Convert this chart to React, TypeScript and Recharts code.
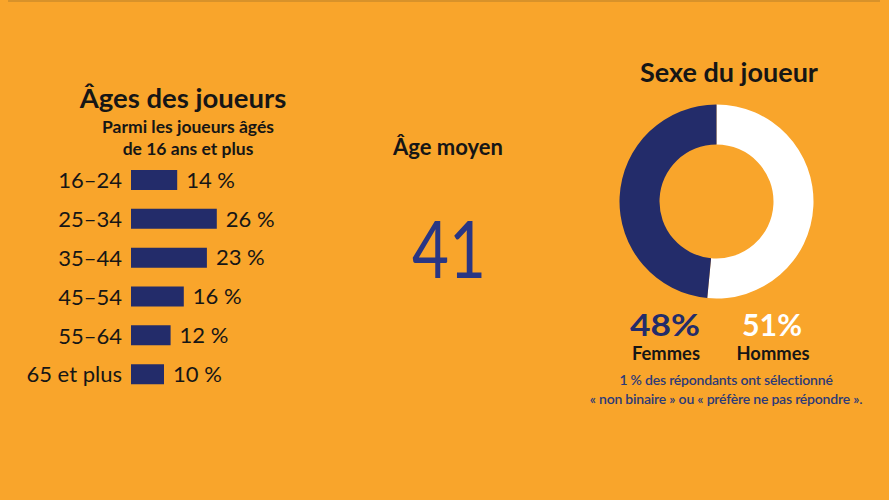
import { BarChart, Bar, XAxis, YAxis, LabelList, PieChart, Pie, Cell } from 'recharts';

const ageGroups = ['16–24', '25–34', '35–44', '45–54', '55–64', '65 et plus'];
const agePercents = [14, 26, 23, 16, 12, 10];

const genderLabels = ['Hommes', 'Femmes'];
const genderPercents = [51, 48];
const genderColors = ['#ffffff', '#232c6a'];

const averageAge = 41;

const BG = '#f9a52b';
const NAVY = '#232c6a';
const INK = '#161616';

const ageData = ageGroups.map((age, i) => ({ age, value: agePercents[i] }));
const genderData = genderLabels.map((name, i) => ({ name, value: genderPercents[i] }));

export default function App() {
  return (
    <div
      style={{
        position: 'absolute',
        left: 0,
        top: 0,
        width: 889,
        height: 500,
        background: BG,
        overflow: 'hidden',
        fontFamily: 'Lato, sans-serif',
      }}
    >
      <div style={{ position: 'absolute', left: 8, top: 0, width: 872, height: 2, background: '#d8922a' }} />

      {/* Ages bar chart */}
      <div style={{ position: 'absolute', left: 0, top: 161 }}>
        <BarChart
          width={320}
          height={233}
          layout="vertical"
          data={ageData}
          margin={{ top: 0, right: 57, bottom: 0, left: 0 }}
        >
          <XAxis type="number" hide domain={[0, 40]} />
          <YAxis
            type="category"
            dataKey="age"
            width={131}
            axisLine={false}
            tickLine={false}
            tickSize={0}
            tickMargin={9}
            tick={{ fontSize: 22, fill: INK, fontFamily: 'Lato' }}
          />
          <Bar dataKey="value" fill={NAVY} barSize={20} isAnimationActive={false}>
            <LabelList
              dataKey="value"
              position="right"
              offset={9}
              formatter={(v: number) => `${v} %`}
              style={{ fontSize: 22, fill: INK, fontFamily: 'Lato' }}
            />
          </Bar>
        </BarChart>
      </div>

      {/* Gender donut */}
      <div style={{ position: 'absolute', left: 601, top: 86 }}>
        <PieChart width={231} height={231}>
          <Pie
            data={genderData}
            dataKey="value"
            cx={110.5}
            cy={110.5}
            innerRadius={57}
            outerRadius={97}
            startAngle={90}
            endAngle={-270}
            stroke="none"
            isAnimationActive={false}
          >
            {genderData.map((d, i) => (
              <Cell key={d.name} fill={genderColors[i]} />
            ))}
          </Pie>
        </PieChart>
      </div>

      <svg
        width={889}
        height={500}
        style={{ position: 'absolute', left: 0, top: 0, pointerEvents: 'none' }}
        fontFamily="Lato, sans-serif"
      >
        <text x={183} y={108} textAnchor="middle" fontSize={27.5} fontWeight={700} fill={INK}>
          Âges des joueurs
        </text>
        <text x={188} y={133} textAnchor="middle" fontSize={17.5} fontWeight={700} fill={INK}>
          Parmi les joueurs âgés
        </text>
        <text x={188} y={155} textAnchor="middle" fontSize={17.5} fontWeight={700} fill={INK}>
          de 16 ans et plus
        </text>

        <text x={448} y={155} textAnchor="middle" fontSize={22} fontWeight={700} fill={INK}>
          Âge moyen
        </text>
        <text
          x={449}
          y={278}
          textAnchor="middle"
          fontSize={80}
          fontWeight={400}
          fill="#293684"
          textLength={74}
          lengthAdjust="spacingAndGlyphs"
        >
          {averageAge}
        </text>

        <text x={729} y={82} textAnchor="middle" fontSize={27} fontWeight={700} fill={INK}>
          Sexe du joueur
        </text>
        <text x={665} y={336} textAnchor="middle" fontSize={31} fontWeight={700} fill={NAVY} textLength={70} lengthAdjust="spacingAndGlyphs">
          {genderPercents[1]}%
        </text>
        <text x={666} y={360} textAnchor="middle" fontSize={18} fontWeight={700} fill={INK} textLength={68} lengthAdjust="spacingAndGlyphs">
          {genderLabels[1]}
        </text>
        <text x={772} y={336} textAnchor="middle" fontSize={31} fontWeight={700} fill="#ffffff" textLength={60} lengthAdjust="spacingAndGlyphs">
          {genderPercents[0]}%
        </text>
        <text x={773} y={360} textAnchor="middle" fontSize={18} fontWeight={700} fill={INK} textLength={73} lengthAdjust="spacingAndGlyphs">
          {genderLabels[0]}
        </text>
        <text x={726} y={385} textAnchor="middle" fontSize={14} fontWeight={600} fill="#2c3a78" letterSpacing={-0.2}>
          1 % des répondants ont sélectionné
        </text>
        <text x={726} y={404} textAnchor="middle" fontSize={14} fontWeight={600} fill="#2c3a78" letterSpacing={-0.2}>
          « non binaire » ou « préfère ne pas répondre ».
        </text>
      </svg>
    </div>
  );
}
